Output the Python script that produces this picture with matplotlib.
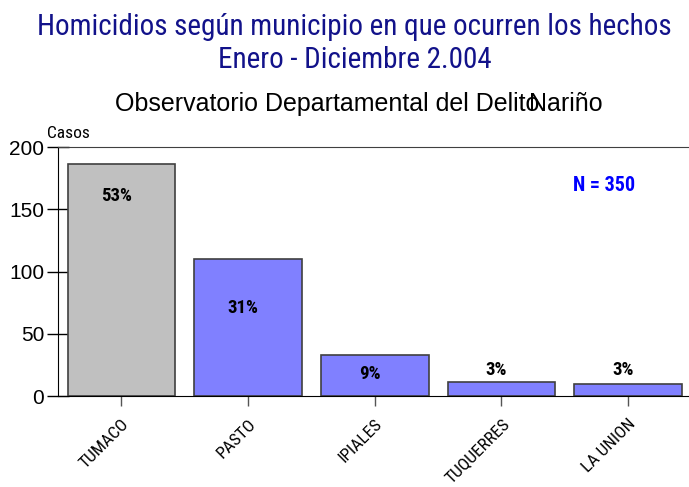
import matplotlib
matplotlib.use("Agg")
import matplotlib.pyplot as plt
import matplotlib.transforms as mtransforms

municipios = ["TUMACO", "PASTO", "IPIALES", "TUQUERRES", "LA UNION"]
casos = [186, 110, 33, 11, 10]
porcentajes = ["53%", "31%", "9%", "3%", "3%"]
total = 350

narrow = ["Roboto Condensed", "DejaVu Sans"]
plt.rcParams['font.family'] = ["Liberation Sans", "DejaVu Sans"]

fig = plt.figure(figsize=(6.89, 4.87), dpi=100)
ax = fig.add_axes([58 / 689, 91 / 487, 1 - 58 / 689, 249 / 487])

colores = ["#c0c0c0"] + ["#8080ff"] * (len(casos) - 1)
x = range(len(municipios))
ax.bar(x, casos, width=0.85, color=colores, edgecolor="#404040", linewidth=1.2, zorder=2)

# label heights (layout only)
label_y = [161, 71, 18, 21, 21]
for i, (p, ly) in enumerate(zip(porcentajes, label_y)):
    ax.text(i - 0.04, ly, p, ha="center", va="center", fontsize=13.5,
            fontweight="bold", family=narrow, zorder=3)

ax.set_xlim(-0.5, 4.48)
ax.set_ylim(0, 200)
ax.set_yticks([0, 50, 100, 150, 200])
ax.set_xticks(list(x))
ax.set_xticklabels(municipios, rotation=45, ha="right", rotation_mode="anchor",
                   fontsize=12.5, family=narrow)
shift = mtransforms.ScaledTranslation(-0.09, 0, fig.dpi_scale_trans)
for t in ax.get_xticklabels():
    t.set_transform(t.get_transform() + shift)
ax.tick_params(axis="y", direction="inout", length=16, width=1, labelsize=15, pad=2)
ax.tick_params(axis="x", direction="inout", length=15, width=1, color="#555555", pad=7)
ax.spines["right"].set_visible(False)
ax.spines["top"].set_color("#404040")

ax.text(0.865, 0.845, "N = %d" % total, transform=ax.transAxes, ha="center", va="center",
        fontsize=14.5, fontweight="bold", color="#0000ff", family=narrow)

fig.text(47 / 689, 1 - 134 / 487, "Casos", ha="left", va="center", fontsize=12.5,
         family=narrow)
fig.text(354 / 689, 1 - 27 / 487, "Homicidios según municipio en que ocurren los hechos",
         ha="center", va="center", fontsize=21, color="#12128a", family=narrow)
fig.text(355 / 689, 1 - 60 / 487, "Enero - Diciembre 2.004",
         ha="center", va="center", fontsize=21, color="#12128a", family=narrow)
fig.text(115 / 689, 1 - 104 / 487, "Observatorio Departamental del Delito",
         ha="left", va="center", fontsize=18)
fig.text(603 / 689, 1 - 104 / 487, "Nariño", ha="right", va="center", fontsize=18)

fig.savefig("out.png", dpi=100)
